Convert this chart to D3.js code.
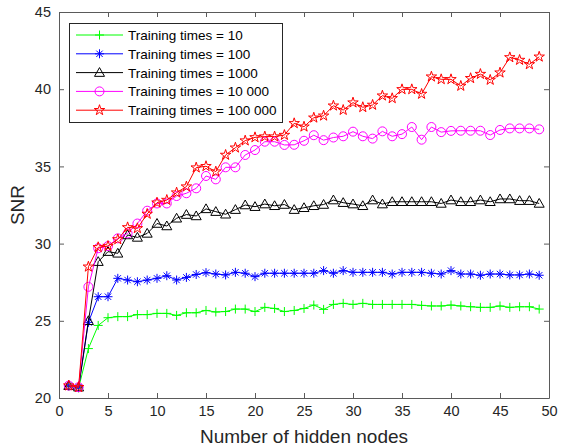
<!DOCTYPE html>
<html>
<head>
<meta charset="utf-8">
<script src="https://cdn.jsdelivr.net/npm/d3@7"></script>
<style>
  html, body { margin: 0; padding: 0; background: #fff; }
  svg { display: block; font-family: "Liberation Sans", Arial, Helvetica, sans-serif; }
</style>
</head>
<body>
<svg id="chart" width="564" height="448"></svg>
<script>
// Hidden-node counts 1..49
const hiddenNodes = d3.range(1, 50);

// SNR per training-times setting
const snr10 = [20.75, 20.65, 23.2, 24.7, 25.2, 25.27, 25.27, 25.4, 25.4, 25.48,
  25.48, 25.35, 25.52, 25.52, 25.67, 25.57, 25.6, 25.76, 25.76, 25.6,
  25.87, 25.8, 25.6, 25.67, 25.8, 26.02, 25.74, 26.06, 26.13, 26.06,
  26.13, 26.06, 26.06, 26.06, 26.06, 26.06, 26.0, 25.96, 25.96, 26.02,
  25.96, 25.91, 25.87, 25.87, 25.96, 25.87, 25.91, 25.91, 25.76];

const snr100 = [20.8, 20.7, 24.9, 26.56, 26.56, 27.75, 27.64, 27.53, 27.64, 27.75,
  27.92, 27.64, 27.81, 28.0, 28.12, 28.03, 27.97, 28.14, 28.08, 27.86,
  28.08, 28.08, 28.08, 28.08, 28.08, 28.08, 28.25, 28.08, 28.25, 28.14,
  28.14, 28.14, 28.14, 28.03, 28.14, 28.14, 28.14, 28.08, 28.03, 28.25,
  28.03, 28.03, 27.95, 28.03, 28.03, 27.97, 27.97, 28.03, 27.95];

const snr1000 = [20.8, 20.7, 25.0, 28.83, 29.48, 29.37, 30.56, 30.4, 30.66, 31.3,
  31.14, 31.64, 31.88, 31.79, 32.25, 32.07, 31.9, 32.2, 32.5, 32.39,
  32.56, 32.45, 32.53, 32.2, 32.32, 32.45, 32.53, 32.82, 32.65, 32.56,
  32.45, 32.82, 32.56, 32.71, 32.71, 32.71, 32.71, 32.71, 32.6, 32.82,
  32.71, 32.71, 32.82, 32.71, 32.89, 32.89, 32.78, 32.78, 32.6];

const snr10k = [20.8, 20.7, 27.2, 29.7, 29.84, 30.34, 30.66, 31.3, 32.13, 32.6,
  32.6, 33.08, 33.26, 33.58, 34.38, 34.16, 34.94, 34.94, 35.74, 36.06,
  36.6, 36.6, 36.39, 36.4, 36.66, 37.02, 36.7, 36.87, 36.95, 37.25,
  36.95, 36.8, 37.27, 36.95, 37.09, 37.55, 36.73, 37.55, 37.22, 37.3,
  37.31, 37.31, 37.31, 37.03, 37.36, 37.46, 37.46, 37.46, 37.4];

const snr100k = [20.8, 20.7, 28.5, 29.76, 29.84, 30.27, 31.05, 30.99, 31.92, 32.65,
  32.82, 33.3, 33.69, 34.92, 35.01, 34.66, 35.74, 36.21, 36.67, 36.88,
  36.93, 36.93, 37.03, 37.79, 37.57, 38.15, 38.28, 38.93, 38.65, 39.13,
  38.83, 38.98, 39.58, 39.41, 39.99, 39.99, 39.69, 40.81, 40.64, 40.64,
  40.21, 40.71, 40.98, 40.6, 41.07, 42.06, 41.89, 41.61, 42.1];

const seriesNames = ["Training times = 10", "Training times = 100", "Training times = 1000",
  "Training times = 10 000", "Training times = 100 000"];

const xTicks = d3.range(0, 51, 5);
const yTicks = [20, 25, 30, 35, 40, 45];

// Marker path generators (unfilled, centred at 0,0)
const markerPaths = {
  plus: r => `M${-r},0H${r}M0,${-r}V${r}`,
  asterisk: r => {
    const d = r * Math.SQRT1_2;
    return `M${-r},0H${r}M0,${-r}V${r}M${-d},${-d}L${d},${d}M${-d},${d}L${d},${-d}`;
  },
  triangle: r => `M0,${-r}L${r},${r * 0.75}L${-r},${r * 0.75}Z`,
  circle: r => `M${r},0A${r},${r} 0 1,1 ${-r},0A${r},${r} 0 1,1 ${r},0Z`,
  star: r => {
    const inner = r * 0.382;
    let p = "";
    for (let k = 0; k < 10; k++) {
      const rad = k % 2 === 0 ? r : inner;
      const a = -Math.PI / 2 + k * Math.PI / 5;
      p += (k === 0 ? "M" : "L") + (rad * Math.cos(a)).toFixed(2) + "," + (rad * Math.sin(a)).toFixed(2);
    }
    return p + "Z";
  }
};

const series = [
  { name: seriesNames[0], values: snr10,   color: "#00ff00", marker: "plus",     size: 4.5 },
  { name: seriesNames[1], values: snr100,  color: "#0000ff", marker: "asterisk", size: 4.5 },
  { name: seriesNames[2], values: snr1000, color: "#000000", marker: "triangle", size: 5 },
  { name: seriesNames[3], values: snr10k,  color: "#ff00ff", marker: "circle",   size: 4.5 },
  { name: seriesNames[4], values: snr100k, color: "#ff0000", marker: "star",     size: 5.5 }
];

const svg = d3.select("#chart");
const margin = { left: 59, right: 15, top: 12, bottom: 50 };
const W = 564, H = 448;
const x = d3.scaleLinear().domain([0, 50]).range([margin.left, W - margin.right]);
const y = d3.scaleLinear().domain([20, 45]).range([H - margin.bottom, margin.top]);

const axisColor = "#262626";
const boxColor = "#5a5a5a";

// Plot box background
svg.append("rect")
  .attr("x", x(0)).attr("y", y(45))
  .attr("width", x(50) - x(0)).attr("height", y(20) - y(45))
  .attr("fill", "#fff");

// Series lines and markers
const line = d3.line().x((d, i) => x(hiddenNodes[i])).y(d => y(d));
series.forEach(s => {
  const g = svg.append("g");
  g.append("path")
    .datum(s.values)
    .attr("d", line)
    .attr("fill", "none")
    .attr("stroke", s.color)
    .attr("stroke-width", 1);
  g.selectAll("path.mk")
    .data(s.values)
    .enter().append("path")
    .attr("class", "mk")
    .attr("transform", (d, i) => `translate(${x(hiddenNodes[i])},${y(d)})`)
    .attr("d", markerPaths[s.marker](s.size))
    .attr("fill", "none")
    .attr("stroke", s.color)
    .attr("stroke-width", 1);
});

// Axes (ticks inward, box on all sides)
const tickLen = 5;
const fontSize = 14.5;
const xAxisB = d3.axisBottom(x).tickValues(xTicks).tickSizeInner(-tickLen).tickSizeOuter(0).tickPadding(8);
const xAxisT = d3.axisTop(x).tickValues(xTicks).tickSizeInner(-tickLen).tickSizeOuter(0).tickFormat("");
const yAxisL = d3.axisLeft(y).tickValues(yTicks).tickSizeInner(-tickLen).tickSizeOuter(0).tickPadding(8);
const yAxisR = d3.axisRight(y).tickValues(yTicks).tickSizeInner(-tickLen).tickSizeOuter(0).tickFormat("");

function styleAxis(g) {
  g.selectAll(".domain").attr("stroke", boxColor).attr("stroke-width", 1);
  g.selectAll(".tick line").attr("stroke", boxColor).attr("stroke-width", 1);
  g.selectAll(".tick text").attr("fill", axisColor)
    .style("font-size", fontSize + "px")
    .style("font-family", "'Liberation Sans', Arial, Helvetica, sans-serif");
}

svg.append("g").attr("transform", `translate(0,${y(20)})`).call(xAxisB).call(styleAxis);
svg.append("g").attr("transform", `translate(0,${y(45)})`).call(xAxisT).call(styleAxis);
svg.append("g").attr("transform", `translate(${x(0)},0)`).call(yAxisL).call(styleAxis);
svg.append("g").attr("transform", `translate(${x(50)},0)`).call(yAxisR).call(styleAxis);

// Axis titles
const titleSize = 19;
svg.append("text")
  .attr("x", (x(0) + x(50)) / 2)
  .attr("y", 443)
  .attr("text-anchor", "middle")
  .attr("fill", axisColor)
  .style("font-size", titleSize + "px")
  .text("Number of hidden nodes");

svg.append("text")
  .attr("transform", `translate(24,${(y(20) + y(45)) / 2}) rotate(-90)`)
  .attr("text-anchor", "middle")
  .attr("fill", axisColor)
  .style("font-size", titleSize + "px")
  .text("SNR");

// Legend
const legend = svg.append("g");
const lx = 69, ly = 23, lw = 213, lh = 99;
legend.append("rect")
  .attr("x", lx + 0.5).attr("y", ly + 0.5)
  .attr("width", lw).attr("height", lh)
  .attr("fill", "#fff")
  .attr("stroke", axisColor)
  .attr("stroke-width", 1);

series.forEach((s, k) => {
  const cy = 35 + k * 18.8;
  legend.append("line")
    .attr("x1", 76).attr("x2", 123)
    .attr("y1", cy).attr("y2", cy)
    .attr("stroke", s.color).attr("stroke-width", 1);
  legend.append("path")
    .attr("transform", `translate(99.5,${cy})`)
    .attr("d", markerPaths[s.marker](s.size))
    .attr("fill", "none")
    .attr("stroke", s.color)
    .attr("stroke-width", 1);
  legend.append("text")
    .attr("x", 128)
    .attr("y", cy + 5)
    .attr("fill", "#000")
    .style("font-size", "13.5px")
    .text(s.name);
});
</script>
</body>
</html>
